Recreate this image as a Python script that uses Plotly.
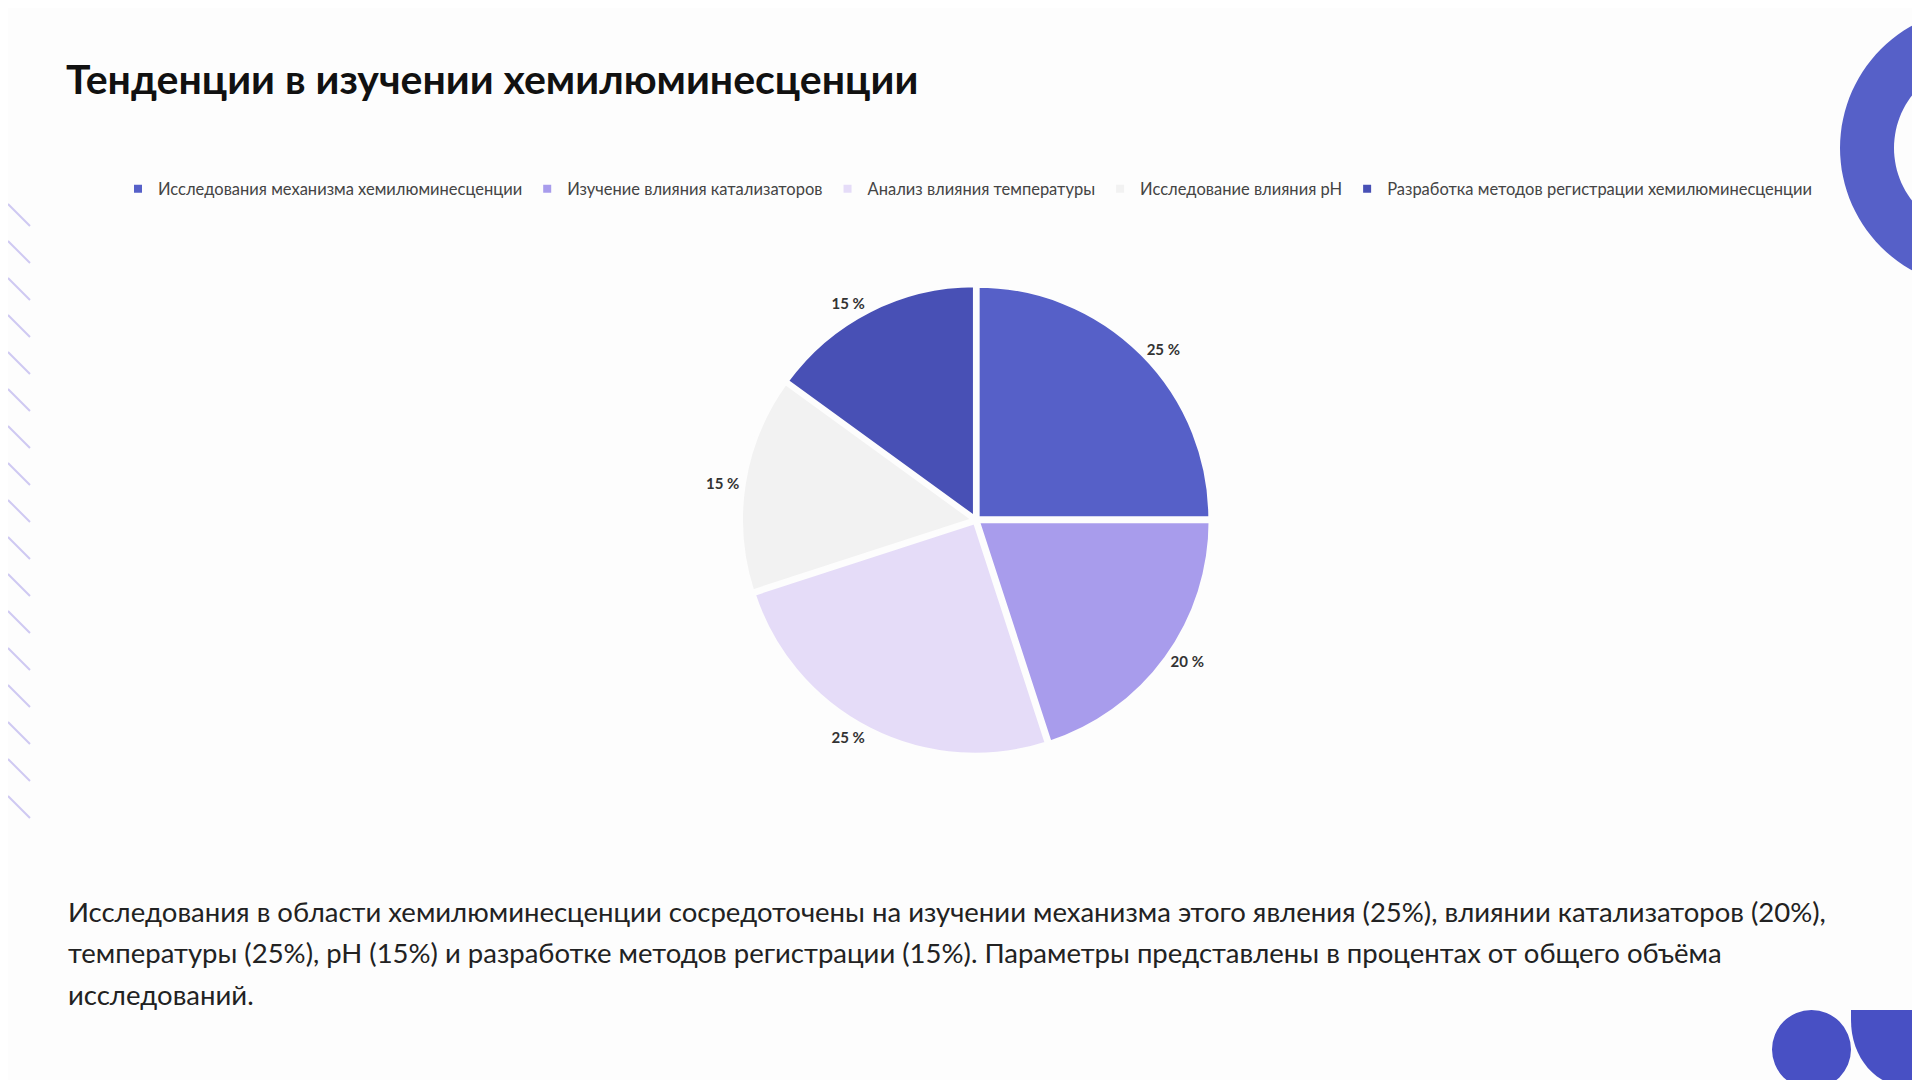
import math
import plotly.graph_objects as go

labels = ["Исследования механизма хемилюминесценции", "Изучение влияния катализаторов",
          "Анализ влияния температуры", "Исследование влияния pH",
          "Разработка методов регистрации хемилюминесценции"]
values = [25, 20, 25, 15, 15]
colors = ["#5660c8", "#a89cec", "#e5dcf8", "#f2f2f2", "#4850b5"]

W, H = 1920, 1080
cx, cy, r = 968, 512, 235
fig = go.Figure()
fig.add_trace(go.Pie(
    labels=labels, values=values, sort=False, direction="clockwise", rotation=0,
    marker=dict(colors=colors, line=dict(color="#fdfdfd", width=4)),
    texttemplate="<b>%{value} %</b>", textposition="outside",
    textfont=dict(size=15, color="#333", family="Lato"),
    pull=[0.01] * 5,
    domain=dict(x=[(cx - r) / W, (cx + r) / W], y=[1 - (cy + r) / H, 1 - (cy - r) / H]),
))

shapes = []
# decorative hatch on the left
for i in range(17):
    y = 196 + i * 37
    shapes.append(dict(type="line", xref="x", yref="y", x0=0, y0=y, x1=22, y1=y + 22,
                       line=dict(color="#cfc9f2", width=2)))
# ring top right (annulus as polygon)
rx, ry, ro, ri = 1972, 140, 140, 86
angs = [math.pi / 2 + k * math.pi / 60 for k in range(61)]
outer = [(rx + ro * math.cos(a), ry + ro * math.sin(a)) for a in angs]
inner = [(rx + ri * math.cos(a), ry + ri * math.sin(a)) for a in reversed(angs)]
pts = outer + inner
path = "M" + " L".join(f"{x:.1f},{y:.1f}" for x, y in pts) + " Z"
shapes.append(dict(type="path", xref="x", yref="y", path=path, fillcolor="#5660c8", line=dict(width=0)))
# bottom right shapes
shapes.append(dict(type="circle", xref="x", yref="y", x0=1764, x1=1843, y0=1002, y1=1081,
                   fillcolor="#4850c4", line=dict(width=0)))
shapes.append(dict(type="path", xref="x", yref="y",
                   path="M1843,1002 L1920,1002 L1920,1080 L1905,1080 C1868,1080 1843,1050 1843,1012 Z",
                   fillcolor="#4850c4", line=dict(width=0)))

para = ["Исследования в области хемилюминесценции сосредоточены на изучении механизма этого явления (25%), влиянии катализаторов (20%),",
        "температуры (25%), pH (15%) и разработке методов регистрации (15%). Параметры представлены в процентах от общего объёма",
        "исследований."]
annotations = [dict(x=56, y=70, xref="x", yref="y", xanchor="left", yanchor="middle", showarrow=False,
                    text="<b>Тенденции в изучении хемилюминесценции</b>",
                    font=dict(size=41, color="#111", family="Lato"))]
for i, line in enumerate(para):
    annotations.append(dict(x=58, y=903 + 41.6 * i, xref="x", yref="y", xanchor="left", yanchor="middle",
                            showarrow=False, text=line, font=dict(size=27.5, color="#222", family="Lato")))

fig.update_layout(
    width=W, height=H, margin=dict(l=0, r=0, t=0, b=0),
    paper_bgcolor="#fdfdfd", plot_bgcolor="rgba(0,0,0,0)",
    font=dict(family="Lato"),
    xaxis=dict(range=[0, W], visible=False, fixedrange=True),
    yaxis=dict(range=[H, 0], visible=False, fixedrange=True),
    shapes=shapes,
    legend=dict(orientation="h", x=0.5, xanchor="center", y=1 - 181 / H, yanchor="middle",
                font=dict(size=16.5, color="#444", family="Lato"), itemwidth=30),
    annotations=annotations,
)
fig.write_html("out.html")
